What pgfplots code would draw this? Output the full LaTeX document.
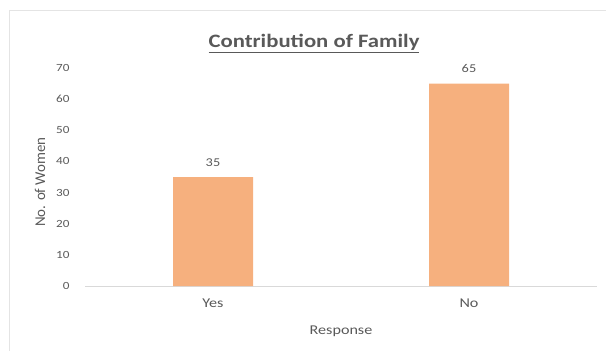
\documentclass[border=0pt]{standalone}
\usepackage{pgfplots}
\pgfplotsset{compat=1.18}
\usepackage{fontspec}
\setmainfont{Carlito}[FakeStretch=1.2]
\newfontfamily\ylabfont{Carlito}
\definecolor{barfill}{HTML}{F6B07E}
\definecolor{txt}{HTML}{595959}
\definecolor{axln}{HTML}{D9D9D9}
\begin{document}
\begin{tikzpicture}[x=1bp,y=1bp]
\path[use as bounding box] (0,0) rectangle (606,351);
\draw[axln!70] (9,0) -- (9,341) -- (606,341);
\begin{axis}[
  at={(85bp,65bp)}, anchor=south west,
  scale only axis, width=512bp, height=218bp,
  xmin=-0.5, xmax=1.5, ymin=0, ymax=70,
  ytick={0,10,...,70},
  xtick=data, xticklabels={Yes,No},
  axis x line*=bottom, axis y line*=left,
  y axis line style={draw=none},
  x axis line style={axln, -},
  major tick length=0pt,
  tick label style={txt},
  yticklabel style={font=\fontsize{11}{13}\selectfont, xshift=-12bp},
  /pgf/number format/assume math mode=true,
  xticklabel style={font=\fontsize{13.5}{15}\selectfont, yshift=-9bp},
  xlabel={Response}, ylabel={No. of Women},
  xlabel style={txt, font=\fontsize{13.5}{15}\selectfont, yshift=-12bp},
  ylabel style={txt, font=\ylabfont\fontsize{15}{17}\selectfont, yshift=4bp, xshift=-5bp},
  ybar, bar width=80bp,
  nodes near coords,
  nodes near coords style={txt, font=\fontsize{12}{14}\selectfont, yshift=7bp},
  title={\underline{Contribution of Family}},
  title style={color=txt, font=\bfseries\fontsize{19}{22}\selectfont, yshift=6bp, xshift=-27bp},
  clip=false,
]
\addplot[fill=barfill, draw=none] coordinates {(0,35) (1,65)};
\end{axis}
\end{tikzpicture}
\end{document}
